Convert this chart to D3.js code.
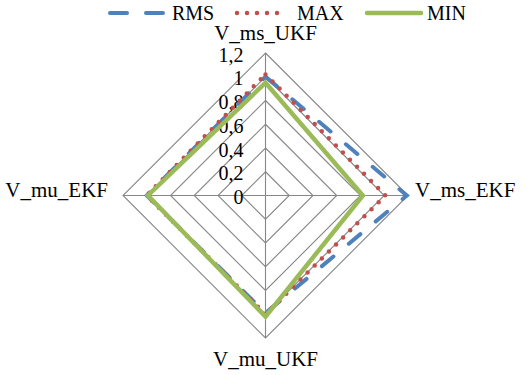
<!DOCTYPE html>
<html>
<head>
<meta charset="utf-8">
<script src="https://cdn.jsdelivr.net/npm/d3@7"></script>
<style>
  html, body { margin: 0; padding: 0; background: #fff; }
  svg { display: block; }
</style>
</head>
<body>
<svg id="chart" width="526" height="375"></svg>
<script>
// Radar axes, clockwise from the top
const axes = ["V_ms_UKF", "V_ms_EKF", "V_mu_UKF", "V_mu_EKF"];
const seriesNames = ["RMS", "MAX", "MIN"];
const rmsValues = [1.00, 1.19, 0.99, 1.00];
const maxValues = [1.02, 1.01, 1.00, 1.00];
const minValues = [0.95, 0.82, 1.02, 0.99];
const tickValues = [0, 0.2, 0.4, 0.6, 0.8, 1.0, 1.2];
const tickLabels = ["0", "0,2", "0,4", "0,6", "0,8", "1", "1,2"];

const colors = ["#4F81BD", "#C0504D", "#9BBB59"];
const dashes = ["15,20", "0,10", null];
const widths = [4, 4.5, 4.5];
const allValues = [rmsValues, maxValues, minValues];
const FONT = '"Liberation Serif"';

const svg = d3.select("#chart");
const cx = 265.5, cy = 195.5;
const g = svg.append("g").attr("transform", `translate(${cx},${cy})`);

const r = d3.scaleLinear().domain([0, 1.2]).range([0, 142.5]);
const step = 2 * Math.PI / axes.length;
const ang = i => i * step;

const radial = d3.lineRadial()
  .angle((d, i) => ang(i))
  .radius(d => r(d))
  .curve(d3.curveLinearClosed);

// grid rings
g.append("g").selectAll("path")
  .data(tickValues.filter(v => v > 0))
  .join("path")
  .attr("d", v => radial(axes.map(() => v)))
  .attr("fill", "none")
  .attr("stroke", "#878787")
  .attr("stroke-width", 1.1);

// spokes
g.append("g").selectAll("line")
  .data(axes)
  .join("line")
  .attr("x1", 0).attr("y1", 0)
  .attr("x2", (d, i) => r(1.2) * Math.sin(ang(i)))
  .attr("y2", (d, i) => -r(1.2) * Math.cos(ang(i)))
  .attr("stroke", "#878787")
  .attr("stroke-width", 1.1);

// tick labels on the vertical axis
g.append("g").selectAll("text")
  .data(tickValues)
  .join("text")
  .attr("x", -22)
  .attr("y", v => -r(v) + 8.5)
  .attr("text-anchor", "end")
  .attr("font-size", 20)
  .style("font-family", FONT)
  .text((v, i) => tickLabels[i]);

// series
g.append("g").selectAll("path")
  .data(allValues)
  .join("path")
  .attr("d", d => radial(d))
  .attr("fill", "none")
  .attr("stroke", (d, i) => colors[i])
  .attr("stroke-width", (d, i) => widths[i])
  .attr("stroke-linecap", (d, i) => i === 2 ? "butt" : "round")
  .attr("stroke-linejoin", "miter")
  .attr("stroke-dasharray", (d, i) => dashes[i]);

// axis labels
const labelPos = [
  { x: 0, y: 40 - cy, anchor: "middle" },
  { x: 415 - cx, y: 197 - cy, anchor: "start" },
  { x: 0, y: 366 - cy, anchor: "middle" },
  { x: 108 - cx, y: 197 - cy, anchor: "end" }
];
g.append("g").selectAll("text")
  .data(axes)
  .join("text")
  .attr("x", (d, i) => labelPos[i].x)
  .attr("y", (d, i) => labelPos[i].y)
  .attr("text-anchor", (d, i) => labelPos[i].anchor)
  .attr("font-size", 21)
  .style("font-family", FONT)
  .text(d => d);

// legend
const legendLine = [[110, 163], [237, 287], [367, 421]];
const legendText = [172, 297, 427];
const legend = svg.append("g").attr("transform", "translate(0,13)");
const item = legend.selectAll("g")
  .data(seriesNames)
  .join("g");
item.append("line")
  .attr("x1", (d, i) => legendLine[i][0])
  .attr("x2", (d, i) => legendLine[i][1])
  .attr("y1", 0).attr("y2", 0)
  .attr("stroke", (d, i) => colors[i])
  .attr("stroke-width", (d, i) => widths[i])
  .attr("stroke-linecap", "round")
  .attr("stroke-dasharray", (d, i) => i === 0 ? "17,19" : dashes[i]);
item.append("text")
  .attr("x", (d, i) => legendText[i])
  .attr("y", 7)
  .attr("font-size", 20)
  .style("font-family", FONT)
  .text(d => d);
</script>
</body>
</html>
